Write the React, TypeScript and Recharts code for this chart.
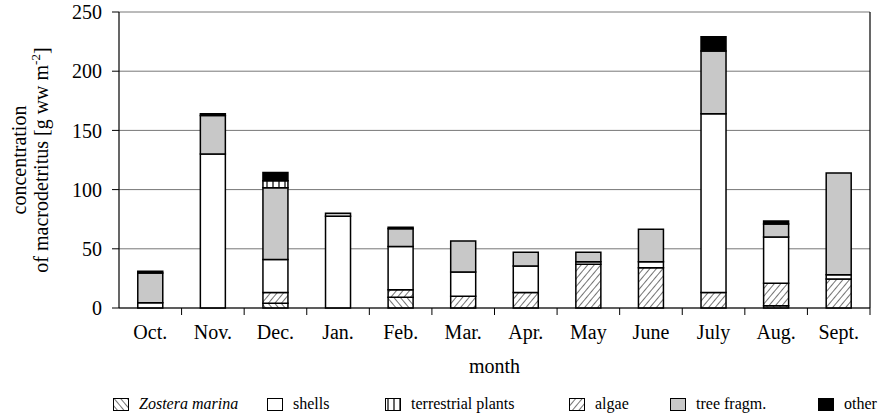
import React from 'react';
import { BarChart, Bar, XAxis, YAxis, CartesianGrid, Label } from 'recharts';

const months = ['Oct.', 'Nov.', 'Dec.', 'Jan.', 'Feb.', 'Mar.', 'Apr.', 'May', 'June', 'July', 'Aug.', 'Sept.'];

// g ww m-2 (stack order bottom -> top)
const zostera = [0, 0, 4, 0, 9, 0, 0, 0, 0, 0, 2, 0];
const algae = [0, 0, 9, 0, 6.5, 10, 13, 37, 34, 13, 19, 24.5];
const shells = [4.5, 130, 28, 77.5, 36.5, 20.5, 22.5, 2, 5, 151, 39, 3.5];
const treeFragm = [25, 32.5, 60.5, 2.5, 15, 26, 11.5, 8, 27.5, 53, 11, 86];
const terrestrial = [0, 0, 6, 0, 0, 0, 0, 0, 0, 0, 0, 0];
const other = [1.5, 1.5, 7, 0, 1.2, 0, 0, 0, 0, 12, 2.5, 0];

const yTicks = [0, 50, 100, 150, 200, 250];

const data = months.map((m, i) => ({
  month: m,
  zostera: zostera[i],
  algae: algae[i],
  shells: shells[i],
  tree: treeFragm[i],
  terrestrial: terrestrial[i],
  other: other[i],
}));

const FONT = "'Liberation Serif'";
const W = 881;
const H = 420;
const PLOT_LEFT = 119;
const PLOT_RIGHT = 870;
const HALF_BAND = (PLOT_RIGHT - PLOT_LEFT) / months.length / 2;

const series = [
  { key: 'zostera', fill: 'url(#pat-zostera)' },
  { key: 'algae', fill: 'url(#pat-algae)' },
  { key: 'shells', fill: '#ffffff' },
  { key: 'tree', fill: '#c8c8c8' },
  { key: 'terrestrial', fill: 'url(#pat-terr)' },
  { key: 'other', fill: '#000000' },
];

const legendItems = [
  { label: 'Zostera marina', fill: 'url(#pat-zostera)', italic: true, left: 113 },
  { label: 'shells', fill: '#ffffff', left: 267 },
  { label: 'terrestrial plants', fill: 'url(#pat-terr)', left: 385 },
  { label: 'algae', fill: 'url(#pat-algae)', left: 569 },
  { label: 'tree fragm.', fill: '#c8c8c8', left: 670 },
  { label: 'other', fill: '#000000', left: 818 },
];

const XTick = (props: any) => {
  const { x, y, payload } = props;
  return (
    <g>
      <line x1={x + HALF_BAND} y1={y} x2={x + HALF_BAND} y2={y + 7} stroke="#000" strokeWidth={1} />
      <text x={x} y={y + 17} dy="0.71em" textAnchor="middle" fontSize={20} style={{ fontFamily: FONT }} fill="#000">
        {payload.value}
      </text>
    </g>
  );
};

const YTitle = () => {
  const cx = 26;
  const cy = 160;
  return (
    <text
      x={cx}
      y={cy}
      textAnchor="middle"
      fontSize={20}
      style={{ fontFamily: FONT }}
      fill="#000"
      transform={`rotate(-90 ${cx} ${cy})`}
    >
      <tspan x={cx} dy={0}>concentration</tspan>
      <tspan x={cx} dy={22}>of macrodetritus [g ww m</tspan>
      <tspan dy={-8} fontSize={13}>-2</tspan>
      <tspan dy={8}>]</tspan>
    </text>
  );
};

const Patterns = () => (
  <svg width={0} height={0} style={{ position: 'absolute' }}>
    <defs>
      <pattern id="pat-algae" width={5} height={5} patternUnits="userSpaceOnUse" patternTransform="rotate(40)">
        <rect width={5} height={5} fill="#fff" />
        <line x1={0} y1={0} x2={0} y2={5} stroke="#000" strokeWidth={1.1} />
      </pattern>
      <pattern id="pat-zostera" width={5} height={5} patternUnits="userSpaceOnUse" patternTransform="rotate(-40)">
        <rect width={5} height={5} fill="#fff" />
        <line x1={0} y1={0} x2={0} y2={5} stroke="#000" strokeWidth={1.1} />
      </pattern>
      <pattern id="pat-terr" width={6} height={6} patternUnits="userSpaceOnUse">
        <rect width={6} height={6} fill="#fff" />
        <line x1={3} y1={0} x2={3} y2={6} stroke="#000" strokeWidth={1.2} />
      </pattern>
    </defs>
  </svg>
);

const Legend = () => (
  <div style={{ position: 'absolute', left: 0, top: 395, width: W, height: 20, fontFamily: FONT, fontSize: 16, color: '#000' }}>
    {legendItems.map((it) => (
      <div key={it.label} style={{ position: 'absolute', left: it.left, top: 0, display: 'flex', alignItems: 'center', whiteSpace: 'nowrap' }}>
        <svg width={16} height={13} style={{ marginRight: 10 }}>
          <rect x={0.5} y={0.5} width={15} height={12} fill={it.fill} stroke="#000" strokeWidth={1} />
        </svg>
        <span style={{ fontStyle: it.italic ? 'italic' : 'normal' }}>{it.label}</span>
      </div>
    ))}
  </div>
);

export default function App() {
  return (
    <div style={{ position: 'absolute', left: 0, top: 0, width: W, height: H, background: '#fff', fontFamily: FONT }}>
      <Patterns />
      <BarChart
        width={W}
        height={H}
        data={data}
        margin={{ top: 12, right: 0, left: 0, bottom: 37 }}
        barCategoryGap="30%"
      >
        <CartesianGrid vertical={false} stroke="#777" strokeWidth={1} />
        <XAxis
          dataKey="month"
          interval={0}
          height={75}
          tickSize={0}
          tickMargin={0}
          tick={<XTick />}
          axisLine={{ stroke: '#000', strokeWidth: 1.2 }}
          tickLine={false}
        >
          <Label value="month" position="insideBottom" offset={10} fontSize={20} fontFamily="Liberation Serif" fill="#000" />
        </XAxis>
        <YAxis
          width={PLOT_LEFT}
          domain={[0, 250]}
          ticks={yTicks}
          interval={0}
          tickSize={7}
          tickMargin={10}
          tick={{ fontSize: 20, fill: '#000', fontFamily: 'Liberation Serif' }}
          axisLine={{ stroke: '#000', strokeWidth: 1.2 }}
          tickLine={{ stroke: '#000' }}
          label={<YTitle />}
        />
        <YAxis
          yAxisId="right"
          orientation="right"
          width={W - PLOT_RIGHT}
          tick={false}
          tickLine={false}
          axisLine={{ stroke: '#000', strokeWidth: 1.2 }}
        />
        {series.map((s) => (
          <Bar
            key={s.key}
            dataKey={s.key}
            stackId="a"
            fill={s.fill}
            stroke="#000"
            strokeWidth={1.5}
            isAnimationActive={false}
          />
        ))}
      </BarChart>
      <Legend />
    </div>
  );
}
